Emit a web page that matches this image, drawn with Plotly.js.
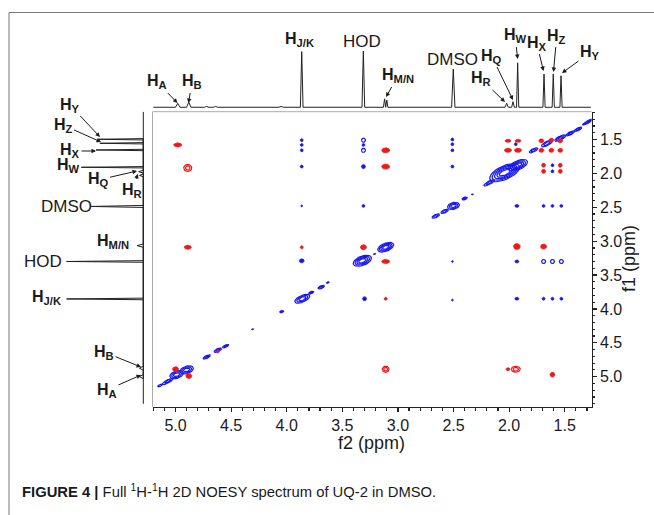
<!DOCTYPE html>
<html>
<head>
<meta charset="utf-8">
<script src="https://cdn.plot.ly/plotly-3.0.1.min.js"></script>
<style>
  html, body { margin: 0; padding: 0; background: #fff; }
  #chart { width: 654px; height: 515px; }
</style>
</head>
<body>
<div id="chart"></div>
<script>
// ---- 1D projection along f2 (drawn above the map) ----
const topPpm    = [4.980, 4.881, 4.72, 4.64, 4.05, 3.865, 3.311, 3.120, 3.100, 2.502, 2.022, 1.965, 1.923, 1.686, 1.603, 1.533];
const topHeight = [7,     9,     1.5,  1.5,  1.5,  99,    100,   15,    13,    68,    7,     10,    79,    59,    59,    56];
const topWidth  = [0.02,  0.02,  0.02, 0.02, 0.02, 0.012, 0.012, 0.01,  0.01,  0.015, 0.015, 0.012, 0.01,  0.01,  0.01,  0.01];

// ---- 1D projection along f1 (drawn left of the map) ----
const leftPpm    = [1.497, 1.556, 1.655, 1.910, 1.975, 2.030, 2.488, 3.066, 3.300, 3.853, 4.875, 4.999];
const leftHeight = [58,    56,    61,    80,    6,     5,     67,    8,     99,    99,    5,     5];
const leftWidth  = [0.01,  0.01,  0.01,  0.01,  0.02,  0.02,  0.015, 0.025, 0.012, 0.012, 0.03,  0.03];

// ---- diagonal peaks (positive phase): centre, half-length along the diagonal, half-width, contour rings ----
const diagF2    = [5.14, 5.07, 4.99, 4.90, 4.72, 4.62, 4.55, 4.306, 4.045, 3.86, 3.78, 3.69, 3.63, 3.32, 3.21, 3.11, 2.66, 2.58, 2.50, 2.40, 2.33, 2.18, 2.04, 1.92, 1.78, 1.66, 1.54, 1.45, 1.38, 1.29, 1.21];
const diagF1    = [5.13, 5.07, 4.97, 4.90, 4.71, 4.61, 4.55, 4.30,  4.04,  3.85, 3.76, 3.68, 3.61, 3.29, 3.19, 3.09, 2.63, 2.56, 2.48, 2.37, 2.31, 2.14, 1.99, 1.88, 1.66, 1.56, 1.48, 1.41, 1.35, 1.24, 1.16];
const diagLen   = [0.02, 0.045, 0.05, 0.05, 0.03, 0.03, 0.025, 0.008, 0.016, 0.06, 0.02, 0.025, 0.012, 0.07, 0.01, 0.062, 0.03, 0.03, 0.042, 0.02, 0.008, 0.045, 0.12, 0.075, 0.035, 0.045, 0.045, 0.035, 0.03, 0.05, 0.04];
const diagWid   = [0.008, 0.014, 0.034, 0.034, 0.012, 0.014, 0.01, 0.006, 0.012, 0.03, 0.01, 0.012, 0.008, 0.042, 0.006, 0.036, 0.014, 0.014, 0.032, 0.011, 0.006, 0.014, 0.06, 0.04, 0.014, 0.018, 0.018, 0.013, 0.012, 0.01, 0.01];
const diagRings = [1, 2, 3, 3, 2, 2, 2, 0, 0, 3, 2, 2, 0, 4, 0, 4, 2, 2, 3, 2, 0, 2, 5, 4, 2, 2, 3, 2, 2, 2, 2];

// ---- NOE cross peaks, negative phase (red) ----
const redF2    = [4.98, 4.89, 4.89, 3.11, 3.11, 3.31, 3.11, 3.865, 3.11, 3.11, 5.00, 4.88, 4.62, 2.01, 1.94, 1.61, 1.93, 1.69, 2.01, 1.92, 2.01, 1.92, 1.71, 1.62, 1.54, 1.71, 1.62, 1.54, 1.69, 1.54, 1.69, 1.54];
const redF1    = [1.58, 1.92, 3.09, 1.66, 1.90, 3.09, 3.30, 3.09,  3.85, 4.89, 4.89, 4.99, 4.63, 4.89, 4.89, 4.97, 3.08, 3.08, 1.52, 1.52, 1.66, 1.66, 1.52, 1.51, 1.52, 1.66, 1.66, 1.66, 1.88, 1.88, 1.97, 1.97];
const redRx    = [0.036, 0.036, 0.032, 0.036, 0.036, 0.027, 0.036, 0.014, 0.014, 0.03, 0.027, 0.027, 0.012, 0.018, 0.04, 0.022, 0.03, 0.027, 0.027, 0.027, 0.032, 0.032, 0.022, 0.022, 0.022, 0.022, 0.022, 0.022, 0.018, 0.018, 0.018, 0.018];
const redRy    = [0.03, 0.052, 0.03, 0.037, 0.037, 0.037, 0.03, 0.022, 0.022, 0.045, 0.037, 0.037, 0.02, 0.022, 0.044, 0.037, 0.044, 0.037, 0.022, 0.022, 0.03, 0.03, 0.03, 0.03, 0.03, 0.03, 0.03, 0.03, 0.03, 0.03, 0.03, 0.03];
const redRings = [0, 2, 0, 0, 0, 0, 0, 0, 0, 2, 0, 0, 0, 0, 2, 0, 0, 0, 0, 0, 0, 0, 0, 0, 0, 0, 0, 0, 0, 0, 0, 0];

// ---- cross peaks, positive phase (blue) ----
const blueF2    = [3.865, 3.865, 3.865, 3.865, 3.865, 3.865, 3.31, 3.31, 3.31, 3.31, 3.31, 3.30, 2.51, 2.51, 2.51, 2.51, 2.51, 2.51, 1.93, 1.93, 1.93, 1.94, 1.69, 1.61, 1.53, 1.69, 1.61, 1.53, 1.69, 1.61, 1.53, 1.61, 1.61];
const blueF1    = [1.51, 1.58, 1.66, 1.90, 2.48, 3.29, 1.51, 1.58, 1.66, 1.90, 2.48, 3.85, 1.50, 1.57, 1.66, 1.90, 3.30, 3.87, 2.48, 3.30, 3.85, 1.57, 2.48, 2.48, 2.48, 3.30, 3.30, 3.30, 3.85, 3.85, 3.85, 1.88, 1.97];
const blueRx    = [0.0135, 0.0135, 0.0135, 0.0135, 0.009, 0.022, 0.018, 0.0135, 0.018, 0.018, 0.0135, 0.018, 0.0135, 0.0135, 0.0135, 0.0135, 0.009, 0.009, 0.018, 0.018, 0.018, 0.0135, 0.0135, 0.0135, 0.0135, 0.018, 0.018, 0.018, 0.0135, 0.0135, 0.0135, 0.0135, 0.0135];
const blueRy    = [0.022, 0.022, 0.022, 0.022, 0.015, 0.03, 0.03, 0.022, 0.03, 0.03, 0.022, 0.03, 0.022, 0.022, 0.022, 0.022, 0.015, 0.015, 0.022, 0.022, 0.022, 0.022, 0.022, 0.022, 0.022, 0.03, 0.03, 0.03, 0.022, 0.022, 0.022, 0.022, 0.022];
const blueRings = [0, 0, 0, 0, 0, 0, 1, 0, 1, 0, 0, 0, 0, 0, 0, 0, 0, 0, 0, 0, 0, 0, 0, 0, 0, 1, 1, 1, 0, 0, 0, 0, 0];

const BLUE = 'rgb(24,24,235)';
const RED  = 'rgb(238,26,26)';
const INK  = '#1a1a1a';
const W = 654, H = 515;

// build a stick spectrum line: baseline, then each peak as a sharp line
function spectrumLine(ppm, height, width, from, to) {
  const order = ppm.map((p, i) => i).sort((a, b) => ppm[b] - ppm[a]);
  const pos = [from], val = [0];
  order.forEach(i => {
    pos.push(ppm[i] + width[i], ppm[i], ppm[i] - width[i]);
    val.push(0, height[i], 0);
  });
  pos.push(to); val.push(0);
  return { pos, val };
}

// contour outline of one peak: centre c, axis vectors u and v (in ppm)
function outline(cx, cy, ux, uy, vx, vy, xs, ys) {
  const n = 36;
  for (let k = 0; k <= n; k++) {
    const t = 2 * Math.PI * k / n;
    xs.push(cx + Math.cos(t) * ux + Math.sin(t) * vx);
    ys.push(cy + Math.cos(t) * uy + Math.sin(t) * vy);
  }
  xs.push(null); ys.push(null);
}

function addPeak(buf, cx, cy, ux, uy, vx, vy, rings) {
  if (rings === 0) {
    outline(cx, cy, ux, uy, vx, vy, buf.fx, buf.fy);
  } else {
    for (let r = 0; r < rings; r++) {
      const s = 1 - r / rings * 0.8;
      outline(cx, cy, ux * s, uy * s, vx * s, vy * s, buf.lx, buf.ly);
    }
  }
}

const blueBuf = { lx: [], ly: [], fx: [], fy: [] };
const redBuf  = { lx: [], ly: [], fx: [], fy: [] };

diagF2.forEach((c, i) => addPeak(blueBuf, c, diagF1[i], diagLen[i], diagLen[i], diagWid[i], -diagWid[i], diagRings[i]));
blueF2.forEach((c, i) => addPeak(blueBuf, c, blueF1[i], blueRx[i], 0, 0, blueRy[i], blueRings[i]));
redF2.forEach((c, i) => addPeak(redBuf, c, redF1[i], redRx[i], 0, 0, redRy[i], redRings[i]));

const topLine  = spectrumLine(topPpm, topHeight, topWidth, 5.20, 1.265);
const leftLine = spectrumLine(leftPpm, leftHeight, leftWidth, 1.09, 5.40);

const xRange = [5.207, 1.259];
const yRange = [5.443, 1.090];
const xDom = [152.5 / W, 591.5 / W];
const yDom = [1 - 406.7 / H, 1 - 111.7 / H];

const traces = [
  { type: 'scatter', mode: 'lines', x: blueBuf.fx, y: blueBuf.fy, fill: 'toself', fillcolor: BLUE,
    line: { color: BLUE, width: 0.8 }, hoverinfo: 'skip' },
  { type: 'scatter', mode: 'lines', x: blueBuf.lx, y: blueBuf.ly,
    line: { color: BLUE, width: 1.2 }, hoverinfo: 'skip' },
  { type: 'scatter', mode: 'lines', x: redBuf.fx, y: redBuf.fy, fill: 'toself', fillcolor: RED,
    line: { color: RED, width: 0.8 }, hoverinfo: 'skip' },
  { type: 'scatter', mode: 'lines', x: redBuf.lx, y: redBuf.ly,
    line: { color: RED, width: 1.2 }, hoverinfo: 'skip' },
  { type: 'scatter', mode: 'lines', x: topLine.pos, y: topLine.val, xaxis: 'x2', yaxis: 'y2',
    line: { color: '#222', width: 1 }, hoverinfo: 'skip' },
  { type: 'scatter', mode: 'lines', x: leftLine.val, y: leftLine.pos, xaxis: 'x3', yaxis: 'y',
    line: { color: '#222', width: 1 }, hoverinfo: 'skip' }
];

const P = (px, py) => ({ x: px / W, y: 1 - py / H });
const SANS = 'Liberation Sans, Arial, sans-serif';
const LABEL_FONT = { family: SANS, size: 16, color: INK };
const PLAIN_FONT = { family: SANS, size: 17, color: INK };

function label(text, tx, ty, tipX, tipY, font) {
  const a = { xref: 'paper', yref: 'paper', text: text, font: font || LABEL_FONT };
  if (tipX === undefined || tipX === null) {
    const p = P(tx, ty);
    return Object.assign(a, { x: p.x, y: p.y, showarrow: false, xanchor: 'center', yanchor: 'middle' });
  }
  const t = P(tipX, tipY);
  return Object.assign(a, {
    x: t.x, y: t.y, ax: tx - tipX, ay: ty - tipY, axref: 'pixel', ayref: 'pixel',
    showarrow: true, arrowhead: 2, arrowsize: 0.9, arrowwidth: 1, arrowcolor: INK
  });
}

const H_ = s => '<b>H<sub>' + s + '</sub></b>';

const annotations = [
  // labels over the f2 projection
  label(H_('A'), 157, 82, 177.5, 103),
  label(H_('B'), 192, 82, 188.5, 103),
  label(H_('J/K'), 299, 40),
  label('HOD', 361.7, 41.7, null, null, PLAIN_FONT),
  label(H_('M/N'), 398, 76, 386, 97),
  label('DMSO', 452.7, 60, null, null, PLAIN_FONT),
  label(H_('Q'), 491.7, 56, 513, 100),
  label(H_('R'), 481, 79, 505, 102),
  label(H_('W'), 515, 36, 517.7, 59),
  label(H_('X'), 536.7, 43, 543.5, 71),
  label(H_('Z'), 556.7, 36, 553.5, 72),
  label(H_('Y'), 590, 52.7, 562, 73),
  // labels beside the f1 projection
  label(H_('Y'), 70, 105, 100, 137),
  label(H_('Z'), 63, 125, 101, 142),
  label(H_('X'), 70, 151, 96, 151),
  label(H_('W'), 68, 166),
  label(H_('Q'), 98, 180, 137, 171),
  label(H_('R'), 131.7, 190, 138, 174),
  label('DMSO', 66, 206, null, null, PLAIN_FONT),
  label(H_('M/N'), 113, 242),
  label('HOD', 43, 261, null, null, PLAIN_FONT),
  label(H_('J/K'), 46, 297),
  label(H_('B'), 104, 352, 141, 367),
  label(H_('A'), 107, 390, 141, 375),
  // axis titles
  Object.assign(P(371, 443), { xref: 'paper', yref: 'paper', text: 'f2 (ppm)', showarrow: false,
    font: { family: SANS, size: 18, color: INK }, xanchor: 'center', yanchor: 'middle' }),
  Object.assign(P(629, 259), { xref: 'paper', yref: 'paper', text: 'f1 (ppm)', showarrow: false, textangle: -90,
    font: { family: SANS, size: 18, color: INK }, xanchor: 'center', yanchor: 'middle' }),
  // figure caption
  Object.assign(P(20, 491), { xref: 'paper', yref: 'paper', showarrow: false, xanchor: 'left', yanchor: 'middle',
    text: '<b>FIGURE 4 |</b> Full <sup>1</sup>H-<sup>1</sup>H 2D NOESY spectrum of UQ-2 in DMSO.',
    font: { family: SANS, size: 14.8, color: INK } })
];

const frame = { color: '#777', width: 1 };
const shapes = [
  // page frame (top and left rules)
  { type: 'line', xref: 'paper', yref: 'paper', x0: 9 / W, x1: 1, y0: 1 - 12.5 / H, y1: 1 - 12.5 / H, line: frame },
  { type: 'line', xref: 'paper', yref: 'paper', x0: 9 / W, x1: 9 / W, y0: 1 - 12.5 / H, y1: 0, line: frame },
  // light top and left edges of the 2D map
  { type: 'line', xref: 'paper', yref: 'paper', x0: xDom[0], x1: xDom[1], y0: yDom[1], y1: yDom[1], line: { color: '#aaa', width: 1 } },
  { type: 'line', xref: 'paper', yref: 'paper', x0: xDom[0], x1: xDom[0], y0: yDom[0], y1: yDom[1], line: { color: '#aaa', width: 1 } }
];

const tickFont = { family: SANS, size: 16, color: INK };

const layout = {
  width: W, height: H,
  margin: { l: 0, r: 0, t: 0, b: 0 },
  paper_bgcolor: '#fff', plot_bgcolor: 'rgba(0,0,0,0)',
  showlegend: false,
  xaxis: {
    domain: xDom, range: xRange, anchor: 'y',
    showline: true, linecolor: '#222', linewidth: 1.3, mirror: false,
    ticks: 'outside', ticklen: 4, tickwidth: 1.2, tickcolor: '#222',
    tick0: 0, dtick: 0.5, tickformat: '.1f', tickfont: tickFont,
    minor: { ticks: 'outside', dtick: 0.1, tick0: 0, ticklen: 2.5, tickcolor: '#222', showgrid: false },
    showgrid: false, zeroline: false
  },
  yaxis: {
    domain: yDom, range: yRange, anchor: 'x', side: 'right',
    showline: true, linecolor: '#222', linewidth: 1.3,
    ticks: 'outside', ticklen: 4, tickwidth: 1.2, tickcolor: '#222',
    tick0: 0, dtick: 0.5, tickformat: '.1f', tickfont: tickFont,
    minor: { ticks: 'outside', dtick: 0.1, tick0: 0, ticklen: 2.5, tickcolor: '#222', showgrid: false },
    showgrid: false, zeroline: false
  },
  xaxis2: { domain: xDom, range: xRange, anchor: 'y2', visible: false },
  yaxis2: { domain: [1 - 108.4 / H, 1 - 45.4 / H], range: [-2, 110], anchor: 'x2', visible: false },
  xaxis3: { domain: [58.05 / W, 144.85 / W], range: [110, -2], anchor: 'y', visible: false },
  shapes: shapes,
  annotations: annotations
};

Plotly.newPlot('chart', traces, layout, { staticPlot: true, displayModeBar: false });
</script>
</body>
</html>
